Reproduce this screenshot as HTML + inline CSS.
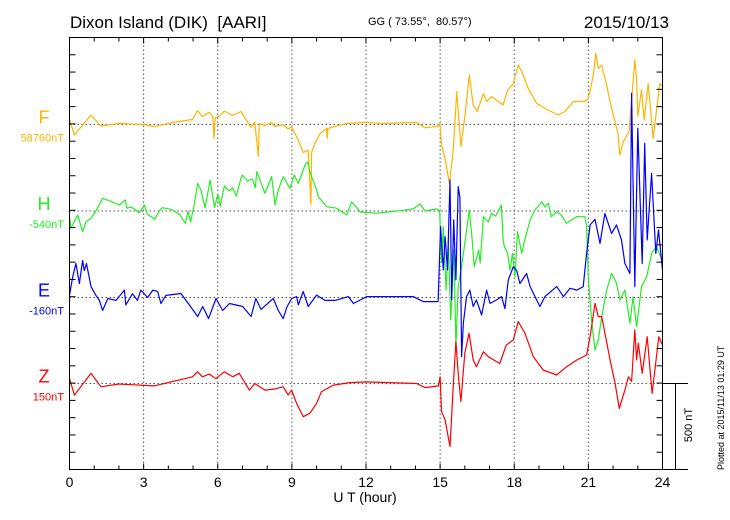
<!DOCTYPE html>
<html><head><meta charset="utf-8"><style>
html,body{margin:0;padding:0;background:#fff;}
svg{display:block;font-family:"Liberation Sans",Arial,sans-serif;}
svg text{white-space:pre;}
</style></head><body>
<svg id="chart" width="730" height="520" viewBox="0 0 730 520">
<text x="70" y="28" font-size="17">Dixon Island (DIK)  [AARI]</text>
<text x="368" y="25" font-size="11">GG ( 73.55°,  80.57°)</text>
<text x="669" y="28" font-size="17" text-anchor="end">2015/10/13</text>
<g id="grid"></g>
<g id="series"></g>
<g id="axes"></g>
<g id="labels"></g>
<text x="365" y="502" font-size="14" text-anchor="middle">U T (hour)</text>
<text transform="translate(692,425) rotate(-90)" font-size="11" text-anchor="middle">500 nT</text>
<text transform="translate(724,470) rotate(-90)" font-size="9">Plotted at 2015/11/13 01:29 UT</text>
</svg>
<script>
// ---- data (hours, nT deviation from baseline) ----
const xTicks = [0,3,6,9,12,15,18,21,24];
const channelNames = ["F","H","E","Z"];
const channelBaselines = ["58760nT","-540nT","-160nT","150nT"];
const scaleBarNT = 500;

const fT = [0,0.2,0.87,1.27,2.0,3.0,3.42,4.2,4.98,5.18,5.38,5.66,5.8,5.85,5.9,6.05,6.27,6.6,6.94,7.34,7.5,7.64,7.68,7.9,8.18,8.3,8.65,8.85,8.99,9.26,9.46,9.66,9.77,9.8,9.93,10.14,10.41,10.43,10.46,10.68,11.22,12,12.7,14.05,14.39,14.93,14.99,15.06,15.2,15.37,15.51,15.56,15.67,15.84,16.0,16.18,16.34,16.5,16.75,16.88,17.08,17.55,17.73,17.96,18.16,18.3,18.57,18.91,19.24,19.78,20.05,20.39,20.86,21.0,21.2,21.3,21.4,21.54,21.75,21.94,22.2,22.27,22.4,22.65,22.88,22.95,23.0,23.15,23.26,23.42,23.62,23.89,24];
const fV = [29,-61,55,-9,6,0,-12,12,29,81,46,72,46,-81,41,46,78,52,75,-17,12,-185,6,-6,12,-12,0,-26,-14,-90,-162,-148,-463,-162,-110,-52,-23,-81,-23,-14,6,12,6,12,-19,-9,6,-119,-197,-341,-179,-81,191,-127,46,286,113,75,179,133,162,113,197,237,344,307,208,122,93,55,75,133,133,150,286,411,324,344,220,93,-52,-177,-104,-41,373,260,46,200,26,237,-81,237,220];

const hT = [0,0.06,0.33,0.53,0.67,0.87,1.07,1.34,1.7,2.02,2.26,2.32,2.5,2.83,3.03,3.15,3.45,3.63,3.75,4.11,4.45,4.69,4.8,4.9,5.05,5.19,5.32,5.49,5.69,5.87,6.0,6.1,6.27,6.45,6.6,6.75,6.94,7.0,7.2,7.4,7.52,7.58,7.91,8.18,8.32,8.45,8.65,8.92,9.1,9.26,9.53,9.66,9.72,10.0,10.07,10.41,10.81,11.22,11.42,11.77,12.43,13.37,13.91,14.18,14.39,14.86,14.98,15.06,15.13,15.24,15.33,15.43,15.56,15.64,15.73,15.87,16.0,16.18,16.3,16.38,16.56,16.62,16.75,16.95,17.08,17.25,17.41,17.48,17.55,17.6,17.73,17.83,17.93,18.03,18.13,18.3,18.5,18.64,18.84,19.11,19.25,19.38,19.5,19.72,19.9,20.12,20.52,20.86,20.93,21.0,21.13,21.27,21.4,21.54,21.74,21.94,22.14,22.28,22.48,22.68,22.81,22.95,23.15,23.36,23.56,23.76,23.98];
const hV = [-33,-98,-23,-120,-62,-42,0,74,54,35,64,16,23,-10,35,-19,-48,0,19,10,-19,-71,0,-64,39,160,122,19,179,19,97,29,145,116,135,87,189,208,174,185,135,228,102,199,35,122,199,131,208,160,266,285,228,122,83,25,16,-23,54,-6,-13,2,12,41,0,12,0,-301,-91,-457,-172,-631,-226,-786,-438,-322,-187,6,-168,-322,-226,-301,-33,-64,-13,-29,16,35,-168,-207,-245,-342,-245,-380,-120,-245,-127,-52,6,54,23,45,-33,-4,-23,-71,-33,-33,-87,-400,-631,-805,-747,-612,-457,-361,-419,-515,-457,-650,-496,-670,-438,-380,-245,-207,-284];

const eT = [0,0.13,0.26,0.4,0.53,0.6,0.69,0.87,1.07,1.21,1.34,1.55,1.88,2.22,2.28,2.55,2.75,2.89,3.16,3.37,3.57,3.7,3.9,4.51,4.85,5.19,5.39,5.63,5.93,6.2,6.47,7.01,7.35,7.54,7.75,8.25,8.45,8.65,8.8,8.99,9.19,9.26,9.46,9.66,10.0,10.34,10.75,11.29,11.49,12.03,13.91,14.32,14.86,14.92,15.02,15.13,15.2,15.3,15.4,15.47,15.55,15.64,15.73,15.8,15.87,15.94,16.07,16.2,16.34,16.47,16.68,16.88,17.02,17.29,17.49,17.62,17.76,17.96,18.1,18.23,18.5,18.64,19.04,19.24,19.72,19.99,20.26,20.53,20.79,20.93,21.07,21.27,21.47,21.67,21.94,22.14,22.34,22.48,22.68,22.75,22.88,23.0,23.18,23.28,23.38,23.56,23.73,23.84,24];
const eV = [14,120,197,81,214,156,196,63,12,-17,-75,-6,-17,43,-43,22,-17,43,0,43,34,-35,12,23,-43,-110,-52,-122,-6,-75,-35,-52,-110,-6,-69,-6,-75,-122,-55,-6,5,-43,35,-52,14,-17,-17,5,-35,5,5,-24,-24,-23,410,159,352,159,680,-14,449,101,642,579,-342,-145,5,43,-52,-14,-101,43,-34,-14,5,-64,101,178,156,81,139,63,-52,5,63,5,53,43,63,255,420,452,313,486,371,420,333,197,139,1181,63,979,197,892,333,718,255,391,159];

const zT = [0,0.2,0.87,1.27,2.0,3.42,4.98,5.18,5.38,5.66,5.92,6.27,6.6,6.87,7.28,7.5,7.91,8.3,8.65,8.85,8.99,9.19,9.46,9.73,10.0,10.2,10.68,11.35,12.0,14.05,14.39,14.93,15.0,15.06,15.2,15.4,15.53,15.64,15.73,15.84,16.0,16.17,16.34,16.47,16.75,16.95,17.41,17.68,17.96,18.16,18.43,18.77,19.17,19.72,20.12,20.53,20.93,21.07,21.27,21.4,21.54,21.88,22.08,22.25,22.48,22.62,22.75,22.88,22.95,23.02,23.18,23.38,23.58,23.85,24];
const zV = [30,-67,59,-19,-3,-14,39,68,39,55,28,68,39,59,-38,0,-38,-32,-19,-67,-38,-115,-192,-172,-115,-47,-9,5,9,0,-24,-14,39,-163,-211,-366,-19,242,58,-105,175,291,136,97,184,155,116,223,252,358,291,155,78,49,97,136,165,271,464,387,387,136,0,-144,-38,39,12,310,136,233,59,271,-58,271,223];

// ---- layout ----
const X0=69.5, X1=662.5, Y0=37.5, Y1=469.5;
const pxPerNT = (Y1-Y0)/2500;
const baseY = [124.5,211,297.5,383.5];
const colors = ["#ffb400","#22ee22","#0000ff","#ff0000"];
const NS="http://www.w3.org/2000/svg";
function xs(h){return X0+(h/24)*(X1-X0);}
function ys(ch,v){return baseY[ch]-v*pxPerNT;}
function mk(tag,attrs,parent){const e=document.createElementNS(NS,tag);for(const k in attrs)e.setAttribute(k,attrs[k]);parent.appendChild(e);return e;}

const grid=document.getElementById('grid');
xTicks.slice(1,-1).forEach(h=>{
  const l=mk('line',{x1:xs(h),x2:xs(h),y1:Y0,y2:Y1,stroke:'#555','stroke-width':1,'stroke-dasharray':'1.5,2.5'},grid);
  
  
});
baseY.forEach((b,i)=>{
  const l=mk('line',{x1:X0,x2:X1,y1:b,y2:b,stroke:'#555','stroke-width':1,'stroke-dasharray':'1.5,2.5'},grid);
  
  
});

const seriesG=document.getElementById('series');
const allT=[fT,hT,eT,zT], allV=[fV,hV,eV,zV];
for(let c=0;c<4;c++){
  const pts=allT[c].map((t,i)=>xs(t).toFixed(1)+','+ys(c,allV[c][i]).toFixed(1)).join(' ');
  const p=mk('polyline',{points:pts,fill:'none',stroke:colors[c],'stroke-width':1.2,'stroke-linejoin':'round'},seriesG);
  
  
}

const axes=document.getElementById('axes');
const frame=mk('rect',{x:X0,y:Y0,width:X1-X0,height:Y1-Y0,fill:'none',stroke:'#000','stroke-width':1},axes);


for(let h=0;h<=24;h++){
  const big=h%3===0?6:4;
  mk('line',{x1:xs(h),x2:xs(h),y1:Y0,y2:Y0+big,stroke:'#000'},axes);
  mk('line',{x1:xs(h),x2:xs(h),y1:Y1,y2:Y1-big,stroke:'#000'},axes);
}
for(let k=1;k<25;k++){
  const y=Y0+k*100*pxPerNT;
  mk('line',{x1:X0,x2:X0+6,y1:y,y2:y,stroke:'#000'},axes);
  mk('line',{x1:X1,x2:X1-6,y1:y,y2:y,stroke:'#000'},axes);
}
xTicks.forEach(h=>{
  const t=mk('text',{x:xs(h),y:487,'font-size':14,'text-anchor':'middle'},axes);
  t.textContent=h;
  
  
});
// scale bar
const sb=mk('path',{d:`M${X1},${baseY[3]} H688 M675.5,${baseY[3]} V${baseY[3]+scaleBarNT*pxPerNT} M${X1},${Y1} H688`,stroke:'#000',fill:'none','stroke-width':1},axes);



const labels=document.getElementById('labels');
for(let c=0;c<4;c++){
  const a=mk('text',{x:44,y:baseY[c]-1,'font-size':18,fill:colors[c],'text-anchor':'middle'},labels);
  a.textContent=channelNames[c];
  
  
  const b=mk('text',{x:64,y:baseY[c]+17,'font-size':11,fill:colors[c],'text-anchor':'end'},labels);
  b.textContent=channelBaselines[c];
  
  
}
</script>
</body></html>
